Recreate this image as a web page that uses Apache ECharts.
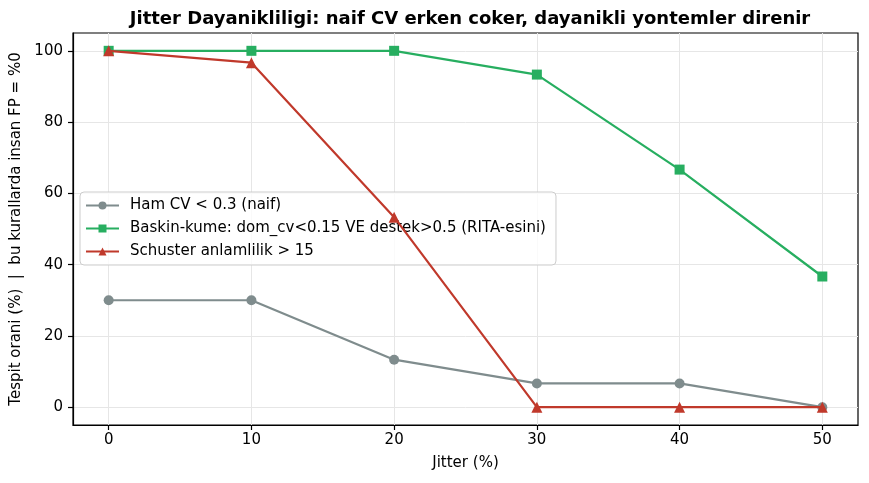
<!DOCTYPE html>
<html><head><meta charset="utf-8">
<script src="https://cdn.jsdelivr.net/npm/echarts@6/dist/echarts.min.js"></script>
<style>html,body{margin:0;padding:0;background:#fff}#c{width:869px;height:483px}</style>
</head><body><div id="c"></div>
<script>
const jitter = [0, 10, 20, 30, 40, 50];
const hamCV = [30, 30, 13.33, 6.67, 6.67, 0];
const baskin = [100, 100, 100, 93.33, 66.67, 36.67];
const schuster = [100, 96.67, 53.33, 0, 0, 0];
const xTicks = [0, 10, 20, 30, 40, 50];
const yTicks = [0, 20, 40, 60, 80, 100];
const names = ['Ham CV < 0.3 (naif)', 'Baskin-kume: dom_cv<0.15 VE destek>0.5 (RITA-esini)', 'Schuster anlamlilik > 15'];
const colors = ['#7f8c8d', '#27ae60', '#c0392b'];
const symbols = ['circle', 'rect', 'triangle'];
const sizes = [10, 10, 11];
const seriesData = [hamCV, baskin, schuster];
const font = 'DejaVu Sans';
const chart = echarts.init(document.getElementById('c'));
const axisCommon = {
  type: 'value', nameLocation: 'middle',
  nameTextStyle: { fontFamily: font, fontSize: 15, color: '#000' },
  axisLine: { show: true, onZero: false, lineStyle: { color: '#000', width: 1.2 } },
  splitLine: { show: true, lineStyle: { color: '#e6e6e6', width: 1 } }
};
chart.setOption({
  animation: false,
  title: { text: 'Jitter Dayanikliligi: naif CV erken coker, dayanikli yontemler direnir', left: 465, textAlign: 'center', top: 5,
    textStyle: { fontFamily: font, fontWeight: 'bold', fontSize: 18, color: '#000' } },
  grid: { left: 73, right: 11, top: 33, bottom: 58, show: true, borderColor: '#000', borderWidth: 1.2, backgroundColor: 'transparent',
    outerBoundsMode: 'none', containLabel: false },
  legend: { left: 80, top: 192, orient: 'vertical', itemGap: 8, itemWidth: 33, itemHeight: 10,
    padding: [6, 10, 6, 5], backgroundColor: 'rgba(255,255,255,0.8)', borderColor: '#cccccc', borderWidth: 1, borderRadius: 4,
    textStyle: { fontFamily: font, fontSize: 15, color: '#000', padding: [0, 0, 0, 6] }, data: names },
  xAxis: Object.assign({}, axisCommon, { min: -2.5, max: 52.5, name: 'Jitter (%)', nameGap: 31,
    axisTick: { show: true, length: 5, lineStyle: { color: '#000', width: 1.2 }, customValues: xTicks },
    axisLabel: { fontFamily: font, fontSize: 15, color: '#000', margin: 8, customValues: xTicks } }),
  yAxis: Object.assign({}, axisCommon, { min: -5, max: 105, name: 'Tespit orani (%)  |  bu kurallarda insan FP = %0', nameGap: 48,
    axisTick: { show: true, length: 5, lineStyle: { color: '#000', width: 1.2 }, customValues: yTicks },
    axisLabel: { fontFamily: font, fontSize: 15, color: '#000', margin: 10, customValues: yTicks } }),
  series: seriesData.map((d, i) => ({
    name: names[i], type: 'line', data: jitter.map((x, j) => [x, d[j]]),
    symbol: symbols[i], symbolSize: sizes[i], showSymbol: true,
    lineStyle: { color: colors[i], width: 2.2 }, itemStyle: { color: colors[i] }, z: 2 + i
  }))
});
</script></body></html>
